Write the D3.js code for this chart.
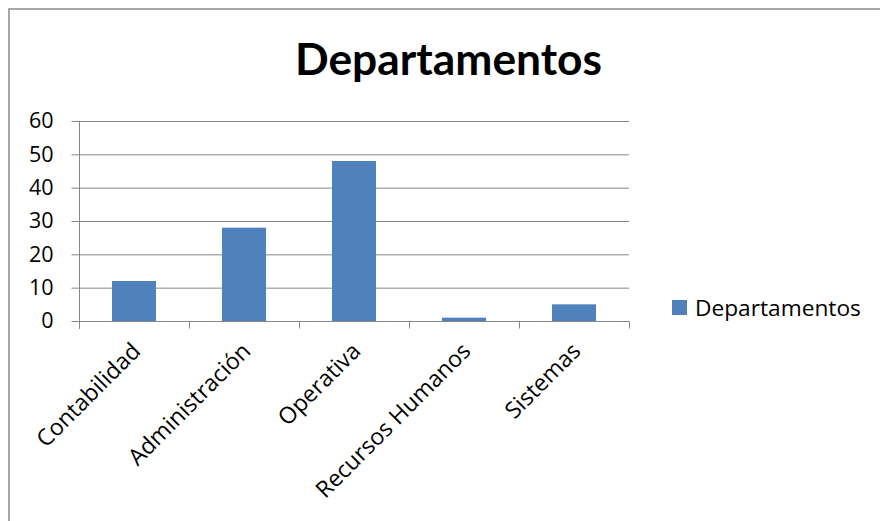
<!DOCTYPE html>
<html><head><meta charset="utf-8">
<script src="https://cdn.jsdelivr.net/npm/d3@7"></script>
<style>body{margin:0;background:#fff}svg{display:block}</style>
</head><body>
<script>
const title = "Departamentos";
const seriesName = "Departamentos";
const categories = ["Contabilidad","Administración","Operativa","Recursos Humanos","Sistemas"];
const values = [12, 28, 48, 1, 5];
const yTicks = [0,10,20,30,40,50,60];

const W = 880, H = 521;
const font = "'Open Sans', sans-serif";
const titleFont = "Lato, 'Open Sans', sans-serif";
const svg = d3.select("body").append("svg").attr("width", W).attr("height", H);
svg.append("rect").attr("width", W).attr("height", H).attr("fill", "#fff");
// outer border (right/bottom fall outside the view)
svg.append("rect").attr("x", 9).attr("y", 9).attr("width", W + 10).attr("height", H + 10)
  .attr("fill", "none").attr("stroke", "#898989").attr("stroke-width", 1.5);

const plot = {left: 79, right: 629, top: 121, bottom: 321};
const x = d3.scaleBand().domain(categories).range([plot.left, plot.right]).paddingInner(0.6).paddingOuter(0.3);
const y = d3.scaleLinear().domain([0, 60]).range([plot.bottom, plot.top]);
const xb = d3.scaleBand().domain(categories).range([plot.left, plot.right]);

// gridlines
svg.append("g").selectAll("line").data(yTicks.filter(d => d > 0)).join("line")
  .attr("x1", plot.left).attr("x2", plot.right)
  .attr("y1", d => y(d) + 0.5).attr("y2", d => y(d) + 0.5)
  .attr("stroke", "#868686").attr("stroke-width", 1);

// bars
svg.append("g").selectAll("rect").data(values).join("rect")
  .attr("x", (d, i) => x(categories[i]))
  .attr("width", x.bandwidth())
  .attr("y", d => y(d))
  .attr("height", d => y(0) - y(d))
  .attr("fill", "#4F81BD");

// y axis
const yAxis = svg.append("g").attr("transform", `translate(${plot.left + 0.5},0)`)
  .call(d3.axisLeft(y).tickValues(yTicks).tickSize(8).tickPadding(18).tickFormat(d3.format("d")));
yAxis.select(".domain").attr("stroke", "#868686").attr("d", `M0,${plot.top}V${plot.bottom + 8}`);
yAxis.selectAll(".tick line").attr("stroke", "#868686");
yAxis.selectAll(".tick text").attr("font-family", font).attr("font-size", 21.5).attr("fill", "#000");

// x axis
const xAxisG = svg.append("g").attr("transform", `translate(0,${plot.bottom + 0.5})`);
xAxisG.append("line").attr("x1", plot.left).attr("x2", plot.right).attr("stroke", "#868686");
const bounds = categories.map(c => xb(c)).concat([plot.right]);
xAxisG.selectAll("line.tk").data(bounds).join("line").attr("class", "tk")
  .attr("x1", d => Math.round(d) + 0.5).attr("x2", d => Math.round(d) + 0.5)
  .attr("y1", 0).attr("y2", 7).attr("stroke", "#868686");
xAxisG.selectAll("text").data(categories).join("text")
  .attr("transform", d => `translate(${xb(d) + xb.bandwidth() / 2 + 8},${31}) rotate(-45)`)
  .attr("text-anchor", "end")
  .attr("font-family", font).attr("font-size", 23).attr("fill", "#000")
  .text(d => d);

// title
const t = svg.append("text").attr("x", (295 + 602) / 2).attr("y", 75)
  .attr("text-anchor", "middle").attr("font-family", titleFont).attr("font-weight", "bold")
  .attr("font-size", 40).attr("fill", "#000").text(title);
const tw = t.node().getComputedTextLength();
t.attr("font-size", 40 * 307 / tw);

// legend
svg.append("rect").attr("x", 672).attr("y", 300).attr("width", 15).attr("height", 15).attr("fill", "#4F81BD");
const lt = svg.append("text").attr("x", 695).attr("y", 316).attr("font-family", font)
  .attr("font-size", 21).attr("fill", "#000").text(seriesName);
const lw = lt.node().getComputedTextLength();
lt.attr("font-size", Math.min(23, 21 * 166 / lw));
</script>
</body></html>
